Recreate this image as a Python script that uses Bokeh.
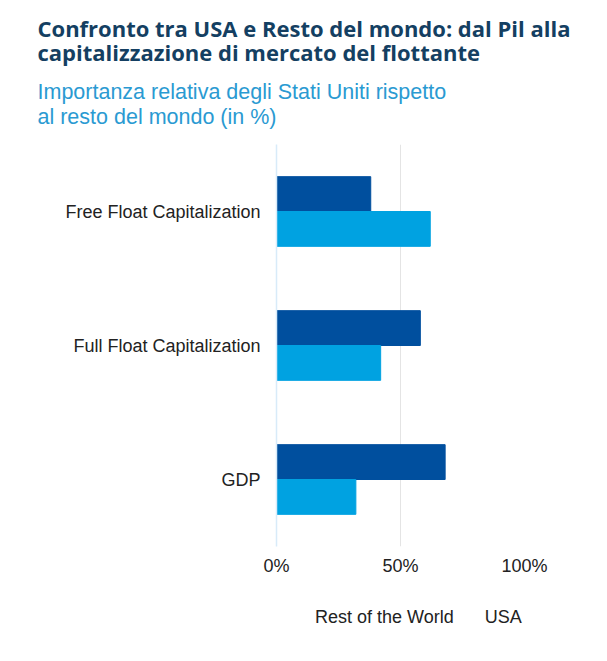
from bokeh.plotting import figure
from bokeh.layouts import column
from bokeh.models import (FactorRange, Range1d, FixedTicker, PrintfTickFormatter,
                          Title, Legend, LegendItem, ColumnDataSource)
from bokeh.transform import dodge
from bokeh.embed import file_html
from bokeh.resources import INLINE

categories = ["GDP", "Full Float Capitalization", "Free Float Capitalization"]
rest_of_world = [68, 58, 38]
usa = [32, 42, 62]
x_ticks = [0, 50, 100]
series_labels = ["Rest of the World", "USA"]
title_text = "Confronto tra USA e Resto del mondo: dal Pil alla\ncapitalizzazione di mercato del flottante"
subtitle_text = "Importanza relativa degli Stati Uniti rispetto\nal resto del mondo (in %)"

ROW_COLOR = "#004f9e"
USA_COLOR = "#00a2e1"

src = ColumnDataSource(dict(cat=categories, row=rest_of_world, usa=usa))

p = figure(frame_width=248, frame_height=402, output_backend="svg", toolbar_location=None,
           title=None, y_range=FactorRange(factors=categories),
           x_range=Range1d(0, 100))
p.min_border_left = 276
p.min_border_right = 76
p.min_border_bottom = 40
p.min_border_top = 144
p.outline_line_color = None
p.background_fill_color = "white"
p.border_fill_color = "white"

r1 = p.hbar(y=dodge("cat", 0.13, range=p.y_range), right="row", left=0, height=0.26,
            source=src, fill_color=ROW_COLOR, line_color=ROW_COLOR)
r2 = p.hbar(y=dodge("cat", -0.13, range=p.y_range), right="usa", left=0, height=0.26,
            source=src, fill_color=USA_COLOR, line_color=USA_COLOR)

# axes
p.xaxis.ticker = FixedTicker(ticks=x_ticks)
p.xaxis.formatter = PrintfTickFormatter(format="%d%%")
p.xaxis.axis_line_color = None
p.xaxis.major_tick_line_color = None
p.xaxis.minor_tick_line_color = None
p.xaxis.major_label_text_font = "Liberation Sans"
p.xaxis.major_label_text_font_size = "18px"
p.xaxis.major_label_text_color = "#222222"
p.xaxis.major_label_standoff = 3

p.yaxis.axis_line_color = "#d8ebf9"
p.yaxis.axis_line_width = 1.5
p.yaxis.major_tick_line_color = None
p.yaxis.minor_tick_line_color = None
p.yaxis.major_label_text_font = "Liberation Sans"
p.yaxis.major_label_text_font_size = "18px"
p.yaxis.major_label_text_color = "#222222"
p.yaxis.major_label_standoff = 10

p.xgrid.grid_line_color = "#e4e4e4"
p.xgrid.grid_line_width = 1
p.ygrid.grid_line_color = None

OFF = -239
# titles (first added = closest to plot)
sub = Title(text=subtitle_text, text_font="Liberation Sans",
            text_font_size="21.5px", text_font_style="normal", text_color="#2a9ad2",
            text_line_height=1.04, standoff=31, offset=OFF)
ttl = Title(text=title_text, text_font="Open Sans",
            text_font_size="22px", text_font_style="bold", text_color="#143f62",
            text_line_height=0.83, standoff=-10, offset=OFF)
p.add_layout(sub, "above")
p.add_layout(ttl, "above")

# legend strip: a second figure with the same frame, whose proxy renderers hold no data
legend_src = ColumnDataSource(dict(cat=[], row=[], usa=[]))
lg = figure(frame_width=248, frame_height=60, output_backend="svg", toolbar_location=None,
            title=None, y_range=FactorRange(factors=categories),
            x_range=Range1d(0, 100), x_axis_location=None, y_axis_location=None)
lg.min_border_left = 276
lg.min_border_right = 76
lg.min_border_top = 0
lg.min_border_bottom = 0
lg.outline_line_color = None
lg.xgrid.grid_line_color = None
lg.ygrid.grid_line_color = None
lr1 = lg.hbar(y="cat", right="row", left=0, height=0.26,
              source=legend_src, fill_color=ROW_COLOR, line_color=ROW_COLOR)
lr2 = lg.hbar(y="cat", right="usa", left=0, height=0.26,
              source=legend_src, fill_color=USA_COLOR, line_color=USA_COLOR)

legend = Legend(items=[LegendItem(label=series_labels[0], renderers=[lr1]),
                       LegendItem(label=series_labels[1], renderers=[lr2])],
                orientation="horizontal", location=(26, 18),
                label_text_font="Liberation Sans", label_text_font_size="18px",
                label_text_color="#222222", glyph_width=8, glyph_height=8,
                spacing=18, border_line_color=None, background_fill_alpha=0,
                margin=0, padding=0, label_standoff=5)
lg.add_layout(legend, "center")

layout = column(p, lg, spacing=0)
open("out.html", "w").write(file_html(layout, INLINE))
